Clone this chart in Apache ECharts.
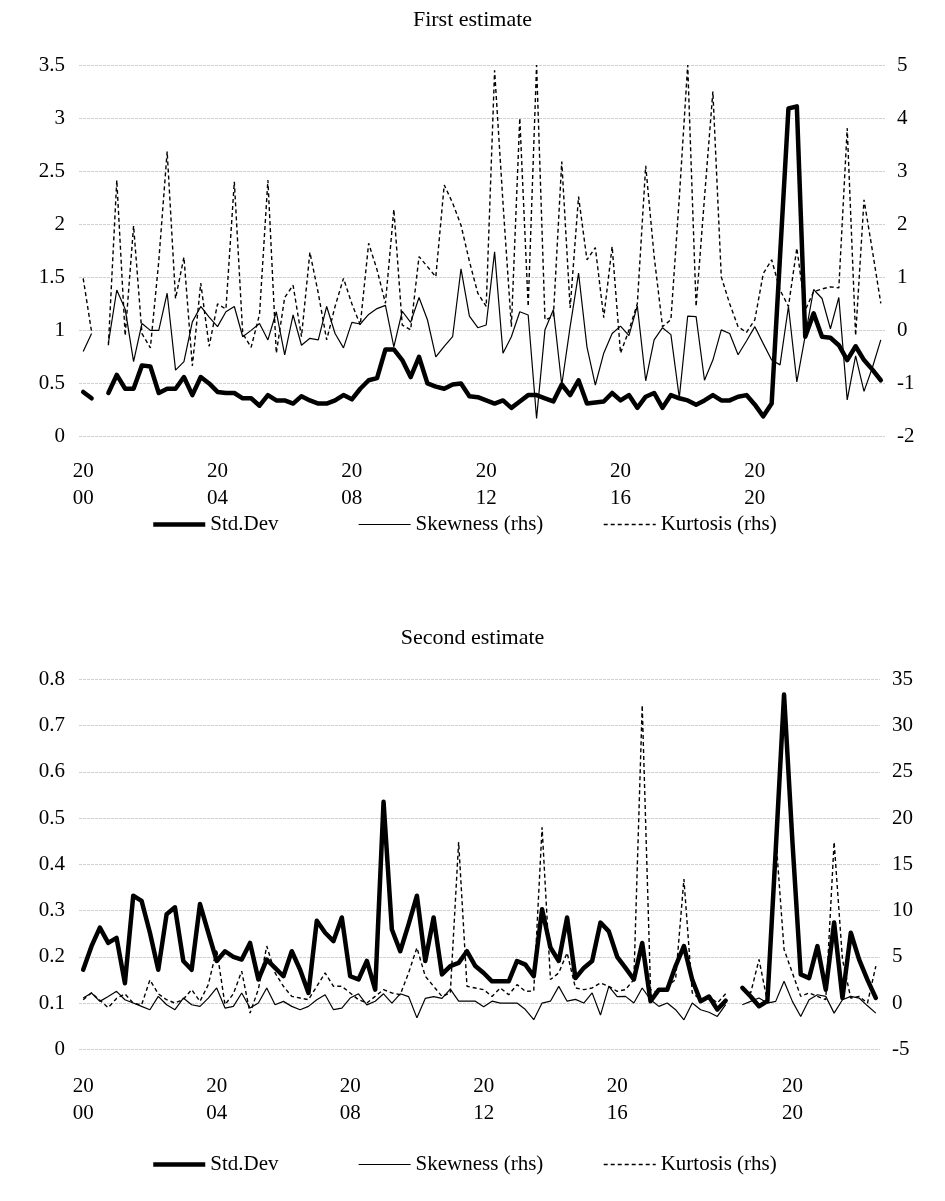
<!DOCTYPE html>
<html><head><meta charset="utf-8">
<script src="https://cdn.jsdelivr.net/npm/echarts@6/dist/echarts.min.js"></script>
<style>html,body{margin:0;padding:0;background:#fff}#c{width:945px;height:1201px}</style>
</head><body><div id="c"></div>
<script>
// ---- categories (quarters 2000Q1 .. 2023Q4) ----
const years = ['2000','2001','2002','2003','2004','2005','2006','2007','2008','2009','2010','2011','2012','2013','2014','2015','2016','2017','2018','2019','2020','2021','2022','2023'];
const quarters = [];
years.forEach(y => ['Q1','Q2','Q3','Q4'].forEach(q => quarters.push(y + q)));
const tickYears = ['2000','2004','2008','2012','2016','2020'];
const tickIndexTop = [0,16,32,48,64,80];
const tickIndexBottom = [0,16,32,48,64,85];

// ---- First estimate ----
const stdFirst = [0.42,0.36,null,0.41,0.58,0.45,0.45,0.67,0.66,0.41,0.45,0.45,0.56,0.39,0.56,0.5,0.42,0.41,0.41,0.36,0.36,0.29,0.39,0.34,0.34,0.31,0.38,0.34,0.31,0.31,0.34,0.39,0.35,0.45,0.53,0.55,0.82,0.82,0.72,0.56,0.75,0.5,0.47,0.45,0.49,0.5,0.38,0.37,0.34,0.31,0.34,0.27,0.33,0.39,0.39,0.36,0.33,0.49,0.39,0.53,0.31,0.32,0.33,0.41,0.34,0.39,0.27,0.375,0.41,0.27,0.39,0.36,0.34,0.3,0.34,0.39,0.34,0.34,0.375,0.39,0.3,0.19,0.31,1.7,3.09,3.11,0.94,1.16,0.94,0.93,0.86,0.72,0.85,0.72,0.63,0.53];
const skewFirst = [-0.4,-0.06,null,-0.24,0.76,0.4,-0.59,0.13,0.0,0.0,0.7,-0.75,-0.59,0.16,0.45,0.25,0.07,0.35,0.45,-0.12,0.0,0.13,-0.18,0.35,-0.46,0.29,-0.28,-0.15,-0.18,0.45,-0.06,-0.33,0.15,0.12,0.3,0.41,0.47,-0.31,0.36,0.15,0.62,0.2,-0.5,-0.3,-0.12,1.16,0.27,0.05,0.1,1.48,-0.43,-0.12,0.35,0.29,-1.66,0.01,0.39,-1.03,0.07,1.08,-0.31,-1.03,-0.43,-0.06,0.08,-0.1,0.46,-0.95,-0.18,0.05,-0.08,-1.27,0.27,0.26,-0.94,-0.56,0.01,-0.06,-0.46,-0.2,0.07,-0.25,-0.56,-0.65,0.45,-0.97,-0.1,0.77,0.6,0.03,0.62,-1.31,-0.48,-1.15,-0.7,-0.18];
const kurtFirst = [0.98,-0.03,null,-0.28,2.83,-0.1,1.97,-0.06,-0.33,1.3,3.37,0.6,1.38,-0.67,0.89,-0.3,0.5,0.4,2.8,-0.06,-0.32,0.3,2.83,-0.43,0.62,0.85,-0.12,1.47,0.7,-0.18,0.45,0.98,0.5,0.1,1.64,1.14,0.51,2.28,0.1,0.01,1.39,1.2,1.01,2.74,2.4,1.98,1.3,0.7,0.45,4.9,2.4,0.07,4.0,0.45,5.0,0.2,0.26,3.18,0.42,2.52,1.33,1.56,0.24,1.58,-0.43,0.0,0.5,3.1,1.4,0.07,0.2,2.5,5.0,0.45,2.5,4.5,1.01,0.5,0.07,-0.04,0.2,1.07,1.33,0.76,0.45,1.55,0.38,0.73,0.78,0.82,0.8,3.81,-0.1,2.46,1.5,0.51];

// ---- Second estimate ----
const stdSecond = [0.172,0.223,0.263,0.23,0.241,0.143,0.332,0.321,0.252,0.172,0.292,0.307,0.191,0.172,0.314,0.252,0.191,0.212,0.2,0.194,0.23,0.151,0.194,0.176,0.158,0.212,0.172,0.122,0.278,0.252,0.234,0.285,0.158,0.151,0.191,0.129,0.535,0.259,0.212,0.27,0.332,0.191,0.285,0.162,0.18,0.187,0.212,0.18,0.165,0.147,0.147,0.147,0.191,0.183,0.158,0.303,0.22,0.191,0.285,0.154,0.176,0.191,0.274,0.255,0.2,0.176,0.151,0.23,0.104,0.129,0.129,0.18,0.223,0.15,0.104,0.114,0.086,0.105,null,0.133,0.114,0.093,0.104,0.43,0.767,0.45,0.162,0.154,0.223,0.129,0.274,0.111,0.252,0.194,0.15,0.111];
const skewSecond = [0.54,1.09,0.18,0.72,1.27,0.36,0.0,-0.36,-0.72,0.72,-0.18,-0.72,0.54,-0.18,-0.36,0.54,1.63,-0.54,-0.36,1.09,-0.54,0.0,1.63,-0.18,0.18,-0.36,-0.72,-0.36,0.36,0.9,-0.72,-0.54,0.54,1.0,-0.2,0.2,1.0,0.0,1.0,0.7,-1.6,0.5,0.7,0.5,1.5,0.2,0.2,0.2,-0.4,0.2,0.0,0.0,0.0,-0.7,-1.8,0.0,0.2,1.8,0.2,0.4,0.0,1.1,-1.3,1.8,0.7,0.72,0.0,1.63,0.36,-0.36,0.0,-0.72,-1.81,0.0,-0.72,-1.0,-1.45,-0.18,null,-0.18,0.18,0.54,0.0,0.18,2.35,0.18,-1.45,0.36,0.9,0.72,-1.09,0.36,0.72,0.54,-0.3,-1.09];
const kurtSecond = [0.36,1.1,0.3,-0.5,0.5,1.0,0.0,-0.2,2.5,1.0,0.36,0.0,0.4,1.45,0.18,2.0,5.8,-0.18,1.0,3.44,-1.09,1.5,6.16,3.26,1.81,0.72,0.54,0.36,1.81,3.26,1.81,1.81,1.09,0.36,0.0,0.72,1.45,1.09,0.9,3.26,5.98,2.9,1.81,0.72,1.09,17.4,1.81,1.63,1.45,0.72,1.63,0.9,1.99,1.27,1.3,19.0,2.54,3.26,5.43,1.63,1.45,1.63,2.17,1.81,1.27,1.45,2.54,32.2,1.45,1.09,1.81,2.54,13.4,1.09,0.36,0.72,0.0,1.0,null,1.45,1.09,4.71,0.18,18.1,5.8,3.26,0.72,1.09,0.72,0.36,17.4,4.71,0.54,0.72,0.0,3.99];

const FONT = 'Liberation Serif';
const TXT = '#000';

function xAxis(gridIndex, ticks, margin) {
  return {
    type: 'category', gridIndex, data: quarters, boundaryGap: true,
    axisLine: {show: false}, axisTick: {show: false}, splitLine: {show: false},
    axisLabel: {
      interval: (idx) => ticks.indexOf(idx) >= 0,
      formatter: (val, idx) => { const k = ticks.indexOf(idx); if (k < 0) return ''; const y = tickYears[k]; return y.slice(0,2) + '\n' + y.slice(2); },
      fontFamily: FONT, fontSize: 21, color: TXT, lineHeight: 27, margin
    }
  };
}
function yAxis(gridIndex, pos, min, max, interval, grid) {
  return {
    type: 'value', gridIndex, position: pos, min, max, interval,
    axisLine: {show: false}, axisTick: {show: false},
    splitLine: {show: grid, lineStyle: {color: '#d0d0d0', width: 1, type: [3, 1]}},
    axisLabel: {fontFamily: FONT, fontSize: 21, color: TXT, margin: pos === 'left' ? 14 : 12, align: pos === 'left' ? 'right' : 'left'}
  };
}
const stdStyle = {color: '#000', width: 4.5, type: 'solid', cap: 'round', join: 'round'};
const skewStyle = {color: '#000', width: 1.2, type: 'solid'};
const kurtStyle = {color: '#000', width: 1.4, type: [4, 3]};
function series(name, data, xi, yi, style) {
  return {name, type: 'line', data, xAxisIndex: xi, yAxisIndex: yi, symbol: 'none', showSymbol: false,
    connectNulls: false, lineStyle: style, itemStyle: {color: '#000'}, z: style === stdStyle ? 3 : 2, silent: true, animation: false};
}
function legend(name, left, top, style) {
  return {data: [name], left, top, itemWidth: 52, itemHeight: 14, itemGap: 6, selectedMode: false,
    itemStyle: {color: 'rgba(0,0,0,0)', borderColor: 'rgba(0,0,0,0)', borderWidth: 0, opacity: 0},
    lineStyle: {width: style.width, type: style.type, color: '#000', cap: 'butt'},
    textStyle: {fontFamily: FONT, fontSize: 21, color: TXT}};
}

const option = {
  backgroundColor: '#fff',
  animation: false,
  title: [
    {text: 'First estimate', left: 'center', top: 4, textStyle: {fontFamily: FONT, fontSize: 22, fontWeight: 'normal', color: TXT}},
    {text: 'Second estimate', left: 'center', top: 622, textStyle: {fontFamily: FONT, fontSize: 22, fontWeight: 'normal', color: TXT}}
  ],
  legend: [
    legend('Std.Dev', 146, 509, stdStyle), legend('Skewness (rhs)', 353, 509, skewStyle), legend('Kurtosis (rhs)', 598, 509, kurtStyle),
    legend('Std.Dev', 146, 1149, stdStyle), legend('Skewness (rhs)', 353, 1149, skewStyle), legend('Kurtosis (rhs)', 598, 1149, kurtStyle)
  ],
  grid: [
    {left: 79, top: 65, width: 806, height: 371.5},
    {left: 79, top: 679.3, width: 801, height: 370}
  ],
  xAxis: [xAxis(0, tickIndexTop, 21), xAxis(1, tickIndexBottom, 24)],
  yAxis: [
    yAxis(0, 'left', 0, 3.5, 0.5, true), yAxis(0, 'right', -2, 5, 1, false),
    yAxis(1, 'left', 0, 0.8, 0.1, true), yAxis(1, 'right', -5, 35, 5, false)
  ],
  series: [
    series('Std.Dev', stdFirst, 0, 0, stdStyle),
    series('Skewness (rhs)', skewFirst, 0, 1, skewStyle),
    series('Kurtosis (rhs)', kurtFirst, 0, 1, kurtStyle),
    series('Std.Dev', stdSecond, 1, 2, stdStyle),
    series('Skewness (rhs)', skewSecond, 1, 3, skewStyle),
    series('Kurtosis (rhs)', kurtSecond, 1, 3, kurtStyle)
  ]
};
const chart = echarts.init(document.getElementById('c'), null, {renderer: 'canvas'});
chart.setOption(option);
</script></body></html>
